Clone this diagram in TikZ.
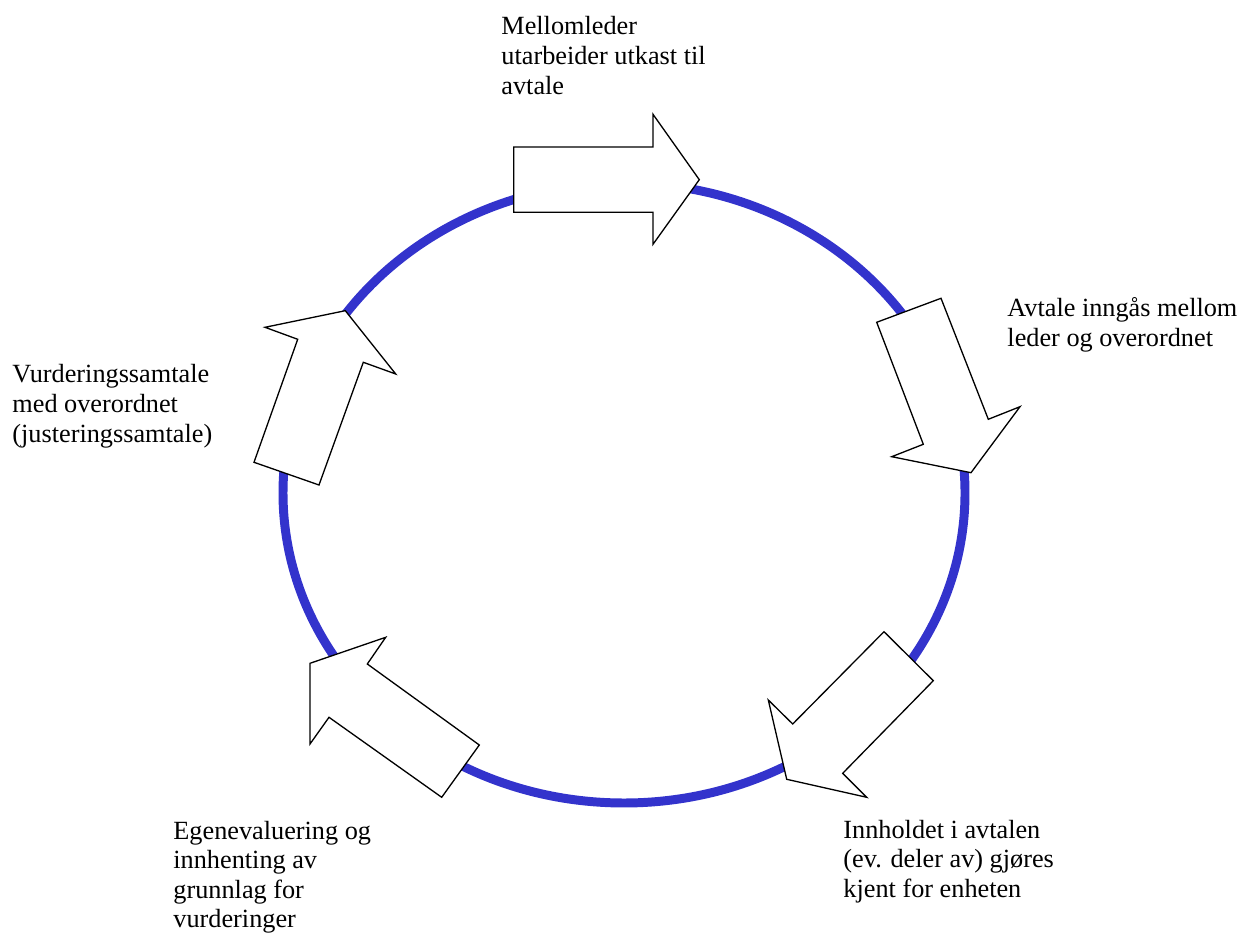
\documentclass[tikz,border=0pt]{standalone}
\usepackage{fontspec}
\setmainfont{Liberation Serif}
\definecolor{ringblue}{RGB}{51,51,204}
\begin{document}
\begin{tikzpicture}[x=0.457pt,y=-0.457pt,
  ring/.style={draw=ringblue,line width=4.1pt},
  blockarrow/.style={draw=black,fill=white,line width=0.6pt,line join=miter},
  lbl/.style={anchor=base west,inner sep=0pt,font=\fontsize{12}{13.5}\selectfont}]
\useasboundingbox (0,0) rectangle (1245,936);
% ring
\draw[ring] (624,493) ellipse [x radius=341, y radius=310];
% block arrows
\draw[blockarrow] (513.7,147) -- (653,147) -- (653,114.3) -- (699.3,179.7) -- (653,244.3) -- (653,212.3) -- (513.7,212.3) -- cycle;
\draw[blockarrow] (876.7,322.3) -- (941,298.3) -- (988.3,419.3) -- (1020,406.7) -- (971,472.7) -- (891.7,456.7) -- (923.3,444.3) -- cycle;
\draw[blockarrow] (884,631.7) -- (933.3,680.7) -- (842.7,773.3) -- (866.7,797.3) -- (786.7,779.3) -- (768.3,700) -- (792.7,724) -- cycle;
\draw[blockarrow] (441.7,797.3) -- (479.3,745) -- (367.3,664) -- (385.7,637.3) -- (310,663.3) -- (310,744) -- (329,717.3) -- cycle;
\draw[blockarrow] (254,462.3) -- (319,485) -- (363.3,362.3) -- (395.7,374) -- (345.3,310.7) -- (265,327.3) -- (297.7,339.3) -- cycle;
% labels
\node[lbl] (l1) at (501,35) {\parbox[t]{250pt}{\raggedright Mellomleder\\utarbeider utkast til\\avtale}};
\node[lbl] (l2) at (1007,317) {\parbox[t]{120pt}{\raggedright Avtale inngås mellom\\leder og overordnet}};
\begin{scope}
\clip (0,0) rectangle (300,448);
\node[lbl] (l3) at (12,383) {\parbox[t]{120pt}{\raggedright Vurderingssamtale\\med overordnet\\(justeringssamtale)}};
\end{scope}
\node[lbl] (l4) at (173,839) {\parbox[t]{120pt}{\raggedright Egenevaluering og\\innhenting av\\grunnlag for\\vurderinger}};
\node[lbl] (l5) at (843,838) {\parbox[t]{120pt}{\raggedright Innholdet i avtalen\\(ev. deler av) gjøres\\kjent for enheten}};
\end{tikzpicture}
\end{document}
